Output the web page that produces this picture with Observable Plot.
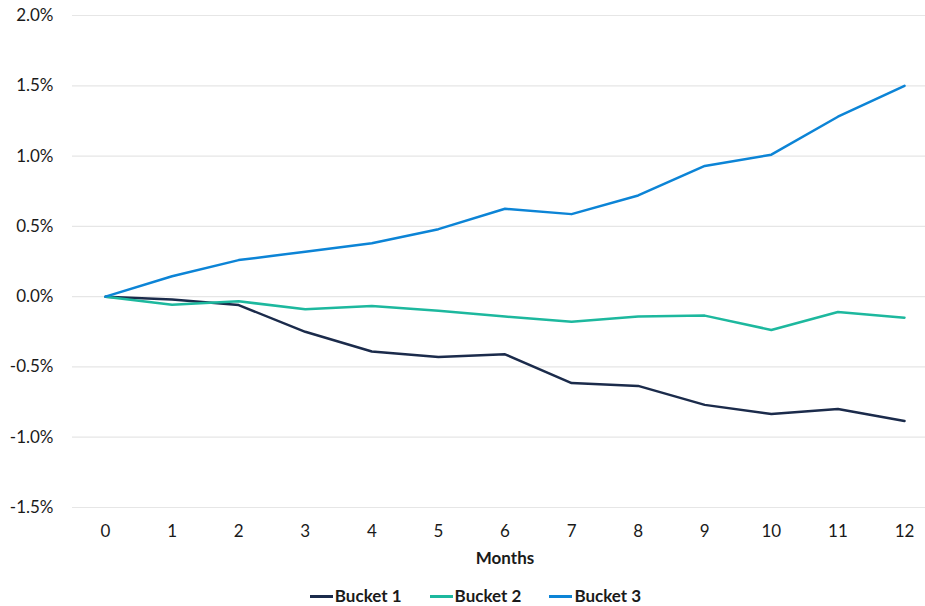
<!DOCTYPE html>
<html>
<head>
<meta charset="utf-8">
<script src="https://cdn.jsdelivr.net/npm/d3@7"></script>
<script src="https://cdn.jsdelivr.net/npm/@observablehq/plot@0.6"></script>
<style>
  html, body { margin: 0; padding: 0; background: #fff; }
  body { width: 925px; font-family: Lato, "Open Sans", sans-serif; }
  #legend { display: flex; justify-content: center; align-items: center; gap: 28px; height: 18px; line-height: 18px; margin-top: 12px; margin-left: 26px;
            font-family: Lato, sans-serif; font-weight: 700; font-size: 17px; color: #1a1a1a; }
  #legend .item { display: flex; align-items: center; gap: 2px; line-height: 18px; }
  #legend .sw { width: 23px; height: 3px; display: inline-block; }
</style>
</head>
<body>
<div id="chart"></div>
<div id="legend"></div>
<script>
const months = [0, 1, 2, 3, 4, 5, 6, 7, 8, 9, 10, 11, 12];
const bucket1 = [0, -0.02, -0.06, -0.25, -0.39, -0.43, -0.41, -0.615, -0.635, -0.77, -0.835, -0.80, -0.885];
const bucket2 = [0, -0.057, -0.033, -0.09, -0.066, -0.10, -0.142, -0.178, -0.142, -0.135, -0.237, -0.109, -0.15];
const bucket3 = [0, 0.145, 0.26, 0.32, 0.38, 0.48, 0.625, 0.587, 0.72, 0.93, 1.01, 1.28, 1.50];
const seriesNames = ["Bucket 1", "Bucket 2", "Bucket 3"];
const seriesColors = ["#1b2b4b", "#1db89e", "#0c84d6"];
const yTicks = [-1.5, -1.0, -0.5, 0.0, 0.5, 1.0, 1.5, 2.0];

const seriesValues = [bucket1, bucket2, bucket3];
const data = [];
seriesNames.forEach((name, i) => {
  months.forEach((m, j) => data.push({series: name, month: m, value: seriesValues[i][j]}));
});

const chart = Plot.plot({
  width: 925,
  height: 575,
  marginTop: 15,
  marginBottom: 68,
  marginLeft: 72,
  marginRight: 0,
  insetLeft: 33,
  insetRight: 21,
  style: { fontFamily: "Lato, sans-serif", fontSize: "17px", color: "#1a1a1a", background: "#fff" },
  x: { domain: [0, 12], ticks: months, label: null },
  y: { domain: [-1.5, 2.0], ticks: yTicks, label: null },
  color: { domain: seriesNames, range: seriesColors },
  marks: [
    Plot.ruleY(yTicks, { stroke: "#e6e6e6", strokeWidth: 1.2 }),
    Plot.axisY({ ticks: yTicks, tickSize: 0, tickPadding: 19, tickFormat: d => d.toFixed(1) + "%", label: null }),
    Plot.axisX({ ticks: months, tickSize: 0, tickPadding: 17, tickFormat: d => String(d), label: null }),
    Plot.text(["Months"], { frameAnchor: "bottom", dx: 6, dy: 56, fontWeight: 700, fontSize: 17, fill: "#1a1a1a" }),
    Plot.line(data, { x: "month", y: "value", z: "series", stroke: "series", strokeWidth: 2.5, curve: "linear" })
  ]
});
document.getElementById("chart").appendChild(chart);

const legend = document.getElementById("legend");
seriesNames.forEach((name, i) => {
  const item = document.createElement("span");
  item.className = "item";
  const sw = document.createElement("span");
  sw.className = "sw";
  sw.style.background = seriesColors[i];
  item.appendChild(sw);
  item.appendChild(document.createTextNode(name));
  legend.appendChild(item);
});
</script>
</body>
</html>
